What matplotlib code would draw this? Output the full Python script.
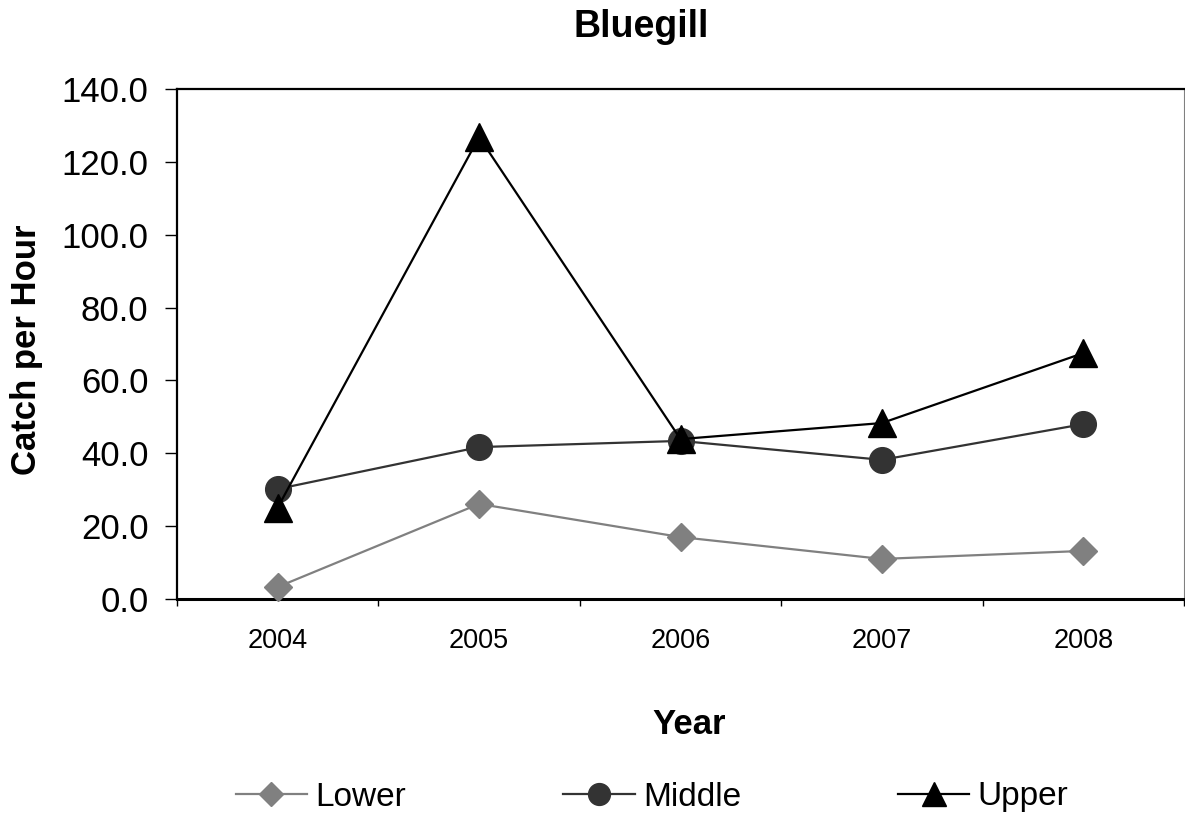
import matplotlib
matplotlib.use("Agg")
import matplotlib.pyplot as plt

plt.rcParams['font.family'] = ['Liberation Sans', 'DejaVu Sans']

years = ["2004", "2005", "2006", "2007", "2008"]
lower = [3.3, 26.1, 17.0, 11.0, 13.2]
middle = [30.2, 41.7, 43.4, 38.2, 48.0]
upper = [25.1, 126.8, 43.9, 48.3, 67.5]

fig = plt.figure(figsize=(11.85, 8.15), dpi=100)
ax = fig.add_axes([177/1185, 1-599/815, (1184-177)/1185, (599-89)/815])

x = list(range(len(years)))
l1, = ax.plot(x, lower, color='#808080', lw=1.6, marker='D', ms=14.5,
              mfc='#808080', mec='#808080', label='Lower', zorder=3, clip_on=False)
l2, = ax.plot(x, middle, color='#333333', lw=1.6, marker='o', ms=18.5,
              mfc='#333333', mec='#333333', label='Middle', zorder=4, clip_on=False)
l3, = ax.plot(x, upper, color='#000000', lw=1.6, marker='^', ms=20.5,
              mfc='#000000', mec='#000000', label='Upper', zorder=5, clip_on=False)

ax.set_xlim(-0.5, 4.5)
ax.set_ylim(0, 140)
yt = [0, 20, 40, 60, 80, 100, 120, 140]
ax.set_yticks(yt)
ax.set_yticklabels([f"{v:.1f}" for v in yt], fontsize=25)
ax.tick_params(axis='y', direction='out', length=8.5, width=1.0, pad=12, colors='black')

ax.set_xticks(x)
ax.set_xticklabels(years, fontsize=19.5)
ax.tick_params(axis='x', which='major', length=0, pad=21)
ax.set_xticks([-0.5, 0.5, 1.5, 2.5, 3.5, 4.5], minor=True)
ax.tick_params(axis='x', which='minor', direction='out', length=5, width=1.0)

for s in ['left', 'top']:
    ax.spines[s].set_color('black')
    ax.spines[s].set_linewidth(1.6)
ax.spines['bottom'].set_color('black')
ax.spines['bottom'].set_linewidth(2.2)
ax.spines['right'].set_color('#808080')
ax.spines['right'].set_linewidth(0.8)

fig.text(641/1185, 1-27/815, "Bluegill", fontsize=27, fontweight='bold',
         ha='center', va='center')
fig.text(27/1185, 1-350/815, "Catch per Hour", fontsize=25, fontweight='bold',
         ha='center', va='center', rotation=90)
fig.text(689/1185, 1-725/815, "Year", fontsize=25, fontweight='bold',
         ha='center', va='center')

leg = fig.legend(handles=[l1, l2, l3], loc='center', ncol=3,
                 bbox_to_anchor=(652/1185, 1-797/815), frameon=False,
                 fontsize=24, handlelength=2.15, handletextpad=0.25,
                 columnspacing=4.7, markerscale=0.85)

fig.savefig("out.png", dpi=100)
